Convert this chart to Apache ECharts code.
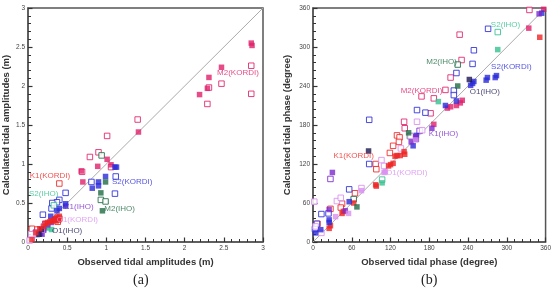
<!DOCTYPE html>
<html>
<head>
<meta charset="utf-8">
<script src="https://cdn.jsdelivr.net/npm/echarts@6/dist/echarts.min.js"></script>
<style>
  html, body { margin: 0; padding: 0; background: #fff; }
  #chart { width: 554px; height: 291px; }
</style>
</head>
<body>
<div id="chart"></div>
<script>
// (a) tidal amplitudes [observed, calculated] in m
const ampM2KordiFilled = [[2.47,2.24],[2.85,2.55],[2.86,2.52],[2.31,2.11],[2.29,1.97],[2.19,1.89],[1.41,1.41],[1.01,1.06],[1.06,0.99],[0.89,0.97],[0.68,0.91],[0.70,0.77]];
const ampM2KordiHollow = [[2.85,2.26],[2.47,2.03],[2.85,1.90],[2.29,1.77],[2.31,1.98],[1.40,1.57],[1.01,1.36],[0.90,1.15],[0.79,1.09],[0.69,0.90],[1.06,0.96]];
const ampS2KordiFilled = [[1.11,0.96],[1.13,0.96],[0.99,0.84],[0.90,0.77],[0.90,0.72],[0.82,0.69],[0.48,0.49],[0.48,0.46],[0.40,0.43],[0.37,0.40],[0.29,0.33],[0.35,0.29],[0.16,0.11],[0.20,0.17]];
const ampS2KordiHollow = [[1.12,0.84],[1.11,0.62],[0.81,0.77],[0.48,0.63],[0.40,0.54],[0.37,0.51],[0.30,0.43],[0.19,0.35],[0.31,0.50]];
const ampM2IhoFilled = [[0.99,0.77],[0.93,0.63],[0.95,0.40]];
const ampM2IhoHollow = [[0.94,1.11],[0.93,0.54],[0.99,0.52]];
const ampS2IhoFilled = [[0.30,0.16],[0.25,0.18]];
const ampS2IhoHollow = [[0.33,0.47],[0.22,0.20],[0.12,0.10]];
const ampK1KordiFilled = [[0.05,0.03],[0.10,0.12],[0.15,0.17],[0.20,0.20],[0.22,0.24],[0.25,0.25],[0.30,0.27],[0.33,0.28],[0.35,0.30],[0.37,0.32],[0.38,0.30],[0.40,0.33],[0.39,0.28],[0.36,0.27],[0.28,0.26]];
const ampK1KordiHollow = [[0.40,0.75],[0.05,0.17],[0.40,0.30],[0.38,0.26],[0.12,0.16]];
const ampK1IhoFilled = [[0.18,0.10],[0.14,0.10],[0.25,0.22],[0.20,0.15],[0.30,0.25]];
const ampK1IhoHollow = [[0.10,0.12],[0.22,0.23]];
const ampO1KordiFilled = [[0.12,0.10],[0.18,0.15]];
const ampO1KordiHollow = [[0.05,0.05],[0.10,0.10],[0.15,0.12],[0.20,0.20],[0.25,0.22],[0.02,0.02],[0.04,0.10]];
const ampO1IhoFilled = [[0.14,0.10],[0.17,0.16]];

// (b) tidal phases [observed, calculated] in degree
const phM2KordiFilled = [[357,358],[334,329],[231,218],[228,214],[222,210],[213,208],[208,206],[187,181]];
const phM2KordiHollow = [[335,357],[227,319],[230,280],[213,253],[205,234],[168,224],[187,221],[182,198],[141,185],[142,175]];
const phK1KordiFilled = [[351,315],[141,139],[142,135],[135,133],[130,133],[127,132],[124,121],[120,119],[117,117],[97,88],[98,86],[63,60],[45,44],[47,47],[27,25],[25,21]];
const phK1KordiHollow = [[130,164],[134,161],[133,154],[124,148],[119,137],[97,120],[98,112],[65,75],[45,59],[43,53],[27,51],[7,28]];
const phS2KordiFilled = [[354,352],[284,256],[282,253],[270,253],[268,249],[249,247],[247,244],[244,241],[222,217],[205,210],[160,164],[155,148],[56,62],[25,34],[25,30],[12,19],[4,14]];
const phS2KordiHollow = [[271,328],[249,295],[247,274],[222,260],[218,233],[218,226],[161,203],[174,199],[87,188],[87,120],[56,81],[13,43],[6,28],[3,20],[24,44]];
const phK1IhoFilled = [[350,351],[184,175],[152,154],[160,158],[159,162],[30,107],[25,50],[50,48]];
const phK1IhoHollow = [[27,97],[165,171]];
const phM2IhoFilled = [[224,240],[148,168],[68,54]];
const phM2IhoHollow = [[224,273],[150,163],[63,66]];
const phS2IhoFilled = [[286,296],[107,91],[194,216]];
const phS2IhoHollow = [[286,323],[107,96]];
const phO1KordiFilled = [[110,107],[112,108],[75,79],[55,44],[35,39],[159,157]];
const phO1KordiHollow = [[2,62],[37,63],[75,83],[106,126],[110,117],[161,185],[169,172],[151,163],[136,144],[4,24],[13,14],[43,68]];
const phO1IhoFilled = [[242,250],[86,140]];

// label positions in data units
const ampLabels = [[2.68,2.17,'M2(KORDI)'],[0.28,0.85,'K1(KORDI)'],[1.33,0.77,'S2(KORDI)'],[0.20,0.62,'S2(IHO)'],[0.65,0.45,'K1(IHO)'],[1.17,0.42,'M2(IHO)'],[0.63,0.29,'O1(KORDI)'],[0.50,0.14,'O1(IHO)']];
const phLabels = [[298,334,'S2(IHO)'],[199,277,'M2(IHO)'],[307,270,'S2(KORDI)'],[168,233,'M2(KORDI)'],[266,231,'O1(IHO)'],[202,167,'K1(IHO)'],[63,132,'K1(KORDI)'],[145,107,'O1(KORDI)']];

const ampTicks = [0, 0.5, 1, 1.5, 2, 2.5, 3];
const phTicks = [0, 60, 120, 180, 240, 300, 360];

const colors = {
  'M2(KORDI)': '#e0206a',
  'K1(KORDI)': '#ef2424',
  'S2(KORDI)': '#2a2ad8',
  'S2(IHO)': '#34c08e',
  'M2(IHO)': '#1f6b44',
  'K1(IHO)': '#7a2acc',
  'O1(KORDI)': '#d88ef0',
  'O1(IHO)': '#1a1650'
};

const myChart = echarts.init(document.getElementById('chart'));

function filled(data, name, idx) {
  return {
    type: 'scatter', xAxisIndex: idx, yAxisIndex: idx, symbol: 'rect', symbolSize: 5.5,
    itemStyle: { color: colors[name] }, data: data, z: 3
  };
}
function hollow(data, name, idx) {
  return {
    type: 'scatter', xAxisIndex: idx, yAxisIndex: idx, symbol: 'rect', symbolSize: 5.5,
    itemStyle: { color: '#fff', borderColor: colors[name], borderWidth: 1, opacity: 0.85 }, data: data, z: 2
  };
}
function labels(list, idx) {
  return {
    type: 'scatter', xAxisIndex: idx, yAxisIndex: idx, symbolSize: 0, silent: true, z: 4,
    data: list.map(l => ({
      value: [l[0], l[1]],
      label: {
        show: true, position: 'inside', formatter: l[2],
        color: colors[l[2]], fontSize: 8, fontFamily: 'Liberation Sans'
      }
    }))
  };
}
function diag(max, idx) {
  return {
    type: 'line', xAxisIndex: idx, yAxisIndex: idx, symbol: 'none', silent: true, z: 1,
    lineStyle: { color: '#aaa', width: 1 }, data: [[0, 0], [max, max]]
  };
}

function xAxisCfg(idx, ticks, name) {
  const step = ticks[1] - ticks[0];
  return {
    gridIndex: idx, type: 'value', min: ticks[0], max: ticks[ticks.length - 1], interval: step,
    name: name, nameLocation: 'middle', nameGap: 11,
    nameTextStyle: { fontSize: 9.5, fontWeight: 'bold', color: '#333', fontFamily: 'Liberation Sans' },
    axisLine: { show: true, lineStyle: { color: '#555', width: 1.5 } },
    axisTick: { show: true, inside: true, length: 4.5, lineStyle: { color: '#333', width: 1.2 } },
    minorTick: { show: true, splitNumber: 5, length: 3, lineStyle: { color: '#333', width: 1 } },
    axisLabel: { fontSize: 6.5, color: '#444', margin: 3, fontFamily: 'Liberation Sans',
      formatter: v => String(v) },
    splitLine: { show: false }
  };
}
function yAxisCfg(idx, ticks, name, gap) {
  const c = xAxisCfg(idx, ticks, name);
  c.nameGap = gap;
  c.nameRotate = 90;
  return c;
}

const option = {
  animation: false,
  grid: [
    { left: 28, top: 8, width: 235, height: 234, show: true, borderColor: '#555', borderWidth: 1.5 },
    { left: 313, top: 8, width: 233, height: 234, show: true, borderColor: '#555', borderWidth: 1.5 }
  ],
  xAxis: [
    xAxisCfg(0, ampTicks, 'Observed tidal amplitudes (m)'),
    xAxisCfg(1, phTicks, 'Observed tidal phase (degree)')
  ],
  yAxis: [
    yAxisCfg(0, ampTicks, 'Calculated tidal amplitudes (m)', 17),
    yAxisCfg(1, phTicks, 'Calculated tidal phase (degree)', 21)
  ],
  graphic: [
    { type: 'text', left: 133, top: 273, style: { text: '(a)', fontSize: 14, fontFamily: 'Liberation Serif', fill: '#222' } },
    { type: 'text', left: 421, top: 273, style: { text: '(b)', fontSize: 14, fontFamily: 'Liberation Serif', fill: '#222' } }
  ],
  series: [
    diag(3, 0),
    hollow(ampM2KordiHollow, 'M2(KORDI)', 0),
    hollow(ampS2KordiHollow, 'S2(KORDI)', 0),
    hollow(ampM2IhoHollow, 'M2(IHO)', 0),
    hollow(ampS2IhoHollow, 'S2(IHO)', 0),
    hollow(ampK1KordiHollow, 'K1(KORDI)', 0),
    hollow(ampK1IhoHollow, 'K1(IHO)', 0),
    hollow(ampO1KordiHollow, 'O1(KORDI)', 0),
    filled(ampM2KordiFilled, 'M2(KORDI)', 0),
    filled(ampS2KordiFilled, 'S2(KORDI)', 0),
    filled(ampM2IhoFilled, 'M2(IHO)', 0),
    filled(ampS2IhoFilled, 'S2(IHO)', 0),
    filled(ampK1IhoFilled, 'K1(IHO)', 0),
    filled(ampO1KordiFilled, 'O1(KORDI)', 0),
    filled(ampO1IhoFilled, 'O1(IHO)', 0),
    filled(ampK1KordiFilled, 'K1(KORDI)', 0),
    labels(ampLabels, 0),

    diag(360, 1),
    hollow(phM2KordiHollow, 'M2(KORDI)', 1),
    hollow(phK1KordiHollow, 'K1(KORDI)', 1),
    hollow(phS2KordiHollow, 'S2(KORDI)', 1),
    hollow(phK1IhoHollow, 'K1(IHO)', 1),
    hollow(phM2IhoHollow, 'M2(IHO)', 1),
    hollow(phS2IhoHollow, 'S2(IHO)', 1),
    hollow(phO1KordiHollow, 'O1(KORDI)', 1),
    filled(phM2KordiFilled, 'M2(KORDI)', 1),
    filled(phK1KordiFilled, 'K1(KORDI)', 1),
    filled(phS2KordiFilled, 'S2(KORDI)', 1),
    filled(phK1IhoFilled, 'K1(IHO)', 1),
    filled(phM2IhoFilled, 'M2(IHO)', 1),
    filled(phS2IhoFilled, 'S2(IHO)', 1),
    filled(phO1KordiFilled, 'O1(KORDI)', 1),
    filled(phO1IhoFilled, 'O1(IHO)', 1),
    labels(phLabels, 1)
  ]
};

myChart.setOption(option);
</script>
</body>
</html>
